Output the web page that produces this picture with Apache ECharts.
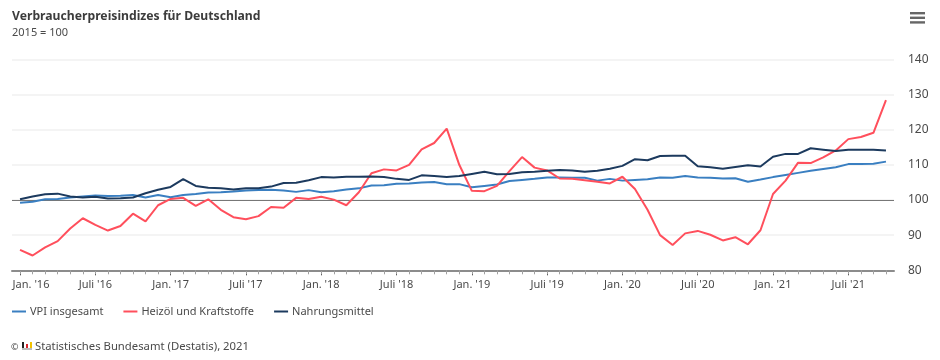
<!DOCTYPE html>
<html><head><meta charset="utf-8">
<style>html,body{margin:0;padding:0;background:#fff}#c{width:940px;height:360px}</style>
<script src="https://cdn.jsdelivr.net/npm/echarts@6/dist/echarts.min.js"></script>
</head><body><div id="c"></div>
<script>
const tickLabels = ["Jan. '16","Juli '16","Jan. '17","Juli '17","Jan. '18","Juli '18","Jan. '19","Juli '19","Jan. '20","Juli '20","Jan. '21","Juli '21"];
const yTicks = [80,90,100,110,120,130,140];
const vpi = [99.2,99.5,100.2,100.3,100.7,101,101.3,101.1,101.2,101.4,100.7,101.4,100.8,101.4,101.7,102.1,102.2,102.4,102.7,102.8,102.9,102.7,102.3,102.8,102.2,102.5,103,103.3,104.1,104.2,104.6,104.7,105,105.1,104.5,104.5,103.6,104,104.4,105.4,105.7,106,106.4,106.4,106.3,106.3,105.5,106,105.5,105.7,105.9,106.4,106.3,106.8,106.4,106.3,106.1,106.2,105.2,105.8,106.5,107.1,107.7,108.3,108.8,109.3,110.2,110.2,110.3,110.9];
const heizoel = [85.8,84.2,86.5,88.3,91.9,94.8,92.9,91.3,92.6,96.1,93.9,98.5,100.3,100.6,98.3,100.2,97.2,95.1,94.5,95.4,98,97.8,100.6,100.3,100.9,100.1,98.5,102.2,107.6,108.7,108.4,110,114.4,116.2,120.3,110,102.6,102.5,104,108.2,112.2,109.2,108.4,106.1,106,105.6,105.2,104.7,106.6,103.1,97.2,90,87.2,90.5,91.2,90.1,88.5,89.4,87.4,91.4,101.7,105.5,110.6,110.5,112.1,114.1,117.3,117.9,119.1,128.4];
const nahrung = [100.2,101,101.6,101.8,101,100.7,100.9,100.4,100.5,100.7,101.9,102.9,103.7,105.9,104,103.5,103.3,103,103.3,103.3,103.8,104.8,104.9,105.6,106.5,106.4,106.6,106.6,106.7,106.5,106,105.7,107,106.8,106.5,106.8,107.4,108,107.3,107.4,107.9,108,108.3,108.5,108.4,108,108.3,108.9,109.7,111.6,111.3,112.5,112.6,112.6,109.6,109.3,108.9,109.4,109.9,109.5,112.3,113.1,113.1,114.7,114.3,113.9,114.3,114.3,114.3,114.1];

const FONT = '"Noto Sans", sans-serif';
const allMonths = vpi.map((_, i) => i);
const majorMonths = allMonths.filter(i => i % 6 === 0);
const pts = a => a.map((v, i) => [i, v]);
const chart = echarts.init(document.getElementById('c'), null, {renderer: 'canvas'});
const lineSeries = (name, data, color, z) => ({
  name, type: 'line', data: pts(data), showSymbol: false, symbol: 'none', z,
  lineStyle: {color, width: 2}, itemStyle: {color}, silent: true, animation: false
});
chart.setOption({
  animation: false,
  backgroundColor: '#fff',
  textStyle: {fontFamily: FONT},
  title: {
    text: 'Verbraucherpreisindizes für Deutschland',
    subtext: '2015 = 100',
    left: 12, top: 11, padding: 0, itemGap: 4,
    textStyle: {fontFamily: FONT, fontSize: 12.2, fontWeight: 700, color: '#3c3c3c'},
    subtextStyle: {fontFamily: FONT, fontSize: 11, color: '#4a4a4a'}
  },
  legend: {
    left: 12, top: 306, padding: 0, itemGap: 20, itemWidth: 14, itemHeight: 2,
    icon: 'rect', selectedMode: false,
    textStyle: {fontFamily: FONT, fontSize: 11, color: '#4a4a4a', padding: [0, 0, 0, -1]},
    data: ['VPI insgesamt', 'Heizöl und Kraftstoffe', 'Nahrungsmittel']
  },
  grid: {left: 12, right: 46, top: 59.3, bottom: 89.7, containLabel: false},
  xAxis: [{
    type: 'value', min: -0.64, max: 69.64,
    axisLine: {show: true, onZero: false, lineStyle: {color: '#8c8c8c', width: 2}},
    splitLine: {show: false},
    axisTick: {show: true, customValues: majorMonths, length: 5, lineStyle: {color: '#444', width: 1}},
    axisLabel: {
      customValues: majorMonths, margin: 9, fontSize: 11, color: '#4a4a4a', fontFamily: FONT,
      hideOverlap: false, showMinLabel: true, showMaxLabel: true,
      formatter: v => v === 0 ? '{first|' + tickLabels[0] + '}' : tickLabels[v / 6],
      rich: {first: {padding: [0, 0, 0, 22], fontSize: 11, color: '#4a4a4a', fontFamily: FONT}}
    }
  }, {
    type: 'value', min: -0.64, max: 69.64, position: 'bottom',
    axisLine: {show: false}, splitLine: {show: false}, axisLabel: {show: false},
    axisTick: {show: true, customValues: allMonths, length: 4, lineStyle: {color: '#a0a0a0', width: 1}}
  }],
  yAxis: {
    type: 'value', position: 'right', min: 80, max: 140, interval: 10,
    axisLine: {show: false}, axisTick: {show: false},
    splitLine: {show: true, lineStyle: {color: '#f1f1f1', width: 1.5}},
    axisLabel: {margin: 14, fontSize: 12, color: '#4a4a4a', fontFamily: FONT, padding: [3, 0, 0, 0],
      formatter: v => yTicks.includes(v) ? String(v) : ''}
  },
  series: [
    Object.assign(lineSeries('VPI insgesamt', vpi, '#3a7fc1', 3), {
      markLine: {silent: true, symbol: 'none', animation: false, label: {show: false},
        lineStyle: {color: '#777', width: 1, type: 'solid'}, data: [{yAxis: 100}], z: 2}
    }),
    lineSeries('Heizöl und Kraftstoffe', heizoel, '#ff4f5c', 4),
    lineSeries('Nahrungsmittel', nahrung, '#1c3a5e', 5)
  ],
  graphic: [
    {type: 'group', left: 910, top: 12, children: [
      {type: 'rect', shape: {x: 0, y: 0, width: 15, height: 2.4}, style: {fill: '#666'}},
      {type: 'rect', shape: {x: 0, y: 4.6, width: 15, height: 2.4}, style: {fill: '#666'}},
      {type: 'rect', shape: {x: 0, y: 9.2, width: 15, height: 2.4}, style: {fill: '#666'}}
    ]},
    {type: 'text', left: 11, top: 343, style: {text: '©', fontFamily: FONT, fontSize: 9, fill: '#4a4a4a'}},
    {type: 'group', left: 22, top: 342, children: [
      {type: 'rect', shape: {x: 0, y: 0, width: 2, height: 6}, style: {fill: '#222'}},
      {type: 'rect', shape: {x: 4, y: 2, width: 2, height: 4}, style: {fill: '#d8232a'}},
      {type: 'rect', shape: {x: 8, y: 0, width: 2, height: 6}, style: {fill: '#f2c200'}},
      {type: 'rect', shape: {x: 0, y: 6, width: 10, height: 2}, style: {fill: '#bbb'}}
    ]},
    {type: 'text', left: 35, top: 341, style: {text: 'Statistisches Bundesamt (Destatis), 2021', fontFamily: FONT, fontSize: 11.3, fill: '#4a4a4a'}}
  ]
});
</script></body></html>
